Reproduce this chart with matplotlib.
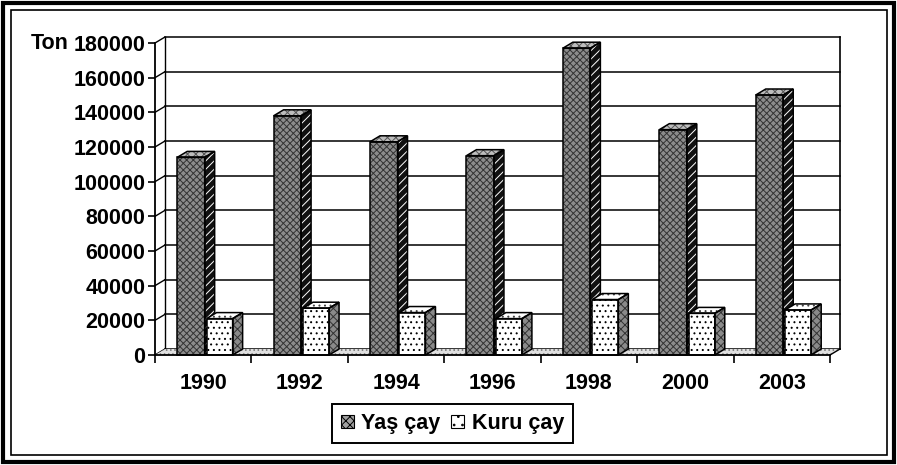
import matplotlib
matplotlib.use("Agg")
import matplotlib.pyplot as plt
from matplotlib.patches import Polygon, Rectangle, Patch

plt.rcParams['font.family'] = ['Liberation Sans', 'DejaVu Sans']
plt.rcParams['hatch.linewidth'] = 0.7

years = ["1990", "1992", "1994", "1996", "1998", "2000", "2003"]
yas_cay = [114000, 138000, 123000, 115000, 177000, 130000, 150000]
kuru_cay = [21000, 27000, 24500, 21000, 32000, 24000, 26000]
yticks = list(range(0, 180001, 20000))
series_labels = ["Yaş çay", "Kuru çay"]
unit_label = "Ton"

FS = 15.5
W, H = 897, 465
fig = plt.figure(figsize=(W / 100, H / 100), dpi=100)
ax = fig.add_axes([155 / W, 1 - 355 / H, 675 / W, 312 / H])
ax.set_xlim(-0.5, len(years) - 0.5)
ax.set_ylim(0, 180000)
ax.patch.set_visible(False)
for s in ax.spines.values():
    s.set_visible(False)

# depth offsets expressed in data units (≈10 px right, 6 px up)
DX = 10 / (675 / len(years))
DY = 6 / 312 * 180000
x_left, x_right = -0.5, len(years) - 0.5
ymax = 180000

lw_axis = 1.3
# back wall gridlines
for y in yticks:
    ax.plot([x_left + DX, x_right + DX], [y + DY, y + DY], color='black', lw=1.1, zorder=1, clip_on=False)
    # side wall connectors
    ax.plot([x_left, x_left + DX], [y, y + DY], color='black', lw=1.0, zorder=1, clip_on=False)
# back wall edges
ax.plot([x_left + DX, x_left + DX], [DY, ymax + DY], color='black', lw=1.0, zorder=1, clip_on=False)
ax.plot([x_right + DX, x_right + DX], [DY, ymax + DY], color='black', lw=1.2, zorder=1, clip_on=False)
# floor
floor = Polygon([(x_left, 0), (x_right, 0), (x_right + DX, DY), (x_left + DX, DY)],
                closed=True, facecolor='#e0e0e0', edgecolor='#777777', hatch='....', lw=0, zorder=1.5, clip_on=False)
ax.add_patch(floor)
ax.plot([x_right, x_right + DX], [0, DY], color='black', lw=1.0, zorder=1.6, clip_on=False)

# front axes
ax.plot([x_left, x_left], [0, ymax], color='black', lw=lw_axis, zorder=5, clip_on=False)
ax.plot([x_left, x_right], [0, 0], color='black', lw=lw_axis, zorder=5, clip_on=False)


def face(pts, fc, hatch, hc, z):
    ax.add_patch(Polygon(pts, closed=True, facecolor=fc, edgecolor=hc, hatch=hatch, lw=0, zorder=z, clip_on=False))
    ax.add_patch(Polygon(pts, closed=True, fill=False, edgecolor='black', lw=1.1, zorder=z + 0.01,
                         joinstyle='miter', clip_on=False))


def bar3d(x0, w, h, front, side, top, z):
    face([(x0, 0), (x0 + w, 0), (x0 + w, h), (x0, h)], *front, z)
    face([(x0 + w, 0), (x0 + w + DX, DY), (x0 + w + DX, h + DY), (x0 + w, h)], *side, z)
    face([(x0, h), (x0 + w, h), (x0 + w + DX, h + DY), (x0 + DX, h + DY)], *top, z)


BW = 0.285
yas_style = (('#8c8c8c', 'xxxxx', '#333333'), ('#111111', '////', 'white'), ('#bdbdbd', 'xxxx', '#555555'))
kuru_style = (('white', '...', 'black'), ('#8a8a8a', 'xxxx', '#333333'), ('white', '...', '#444444'))

for i in range(len(years)):
    bar3d(i - 0.27, BW, yas_cay[i], *yas_style, z=2 + i * 0.1)
    bar3d(i + 0.035, 0.27, kuru_cay[i], *kuru_style, z=2.05 + i * 0.1)

# ticks
ax.set_yticks(yticks)
ax.set_yticklabels([str(v) for v in yticks])
ax.tick_params(axis='y', direction='out', length=5, width=1.2, pad=2, labelsize=FS)
ax.set_xticks(range(len(years)))
ax.set_xticklabels(years)
ax.set_xticks([i - 0.5 for i in range(len(years) + 1)], minor=True)
ax.tick_params(axis='x', which='major', length=0, pad=13, labelsize=FS)
ax.tick_params(axis='x', which='minor', direction='out', length=6, width=1.2)
for lab in ax.get_xticklabels() + ax.get_yticklabels():
    lab.set_fontweight('bold')

fig.text(31 / W, 1 - 43 / H, unit_label, fontsize=FS, fontweight='bold', va='center', ha='left')

handles = [Patch(facecolor='#a0a0a0', edgecolor='black', hatch='xxxx', lw=0.8),
           Patch(facecolor='white', edgecolor='black', hatch='..', lw=0.8)]
leg = fig.legend(handles, series_labels, loc='center', bbox_to_anchor=(452.5 / W, 1 - 423.5 / H),
                 ncol=2, frameon=True, fancybox=False, edgecolor='black', framealpha=1,
                 handlelength=0.6, handleheight=0.6, columnspacing=0.5, handletextpad=0.35,
                 borderpad=0.4, borderaxespad=0, prop={'size': FS, 'weight': 'bold'})
leg.get_frame().set_linewidth(1.4)

# outer double frame
fig.patches.append(Rectangle((3 / W, 3 / H), 891 / W, 459 / H, transform=fig.transFigure,
                             fill=False, edgecolor='black', lw=3))
fig.patches.append(Rectangle((11 / W, 10 / H), 876 / W, 445 / H, transform=fig.transFigure,
                             fill=False, edgecolor='black', lw=1.2))

fig.savefig("out.png", dpi=100)
